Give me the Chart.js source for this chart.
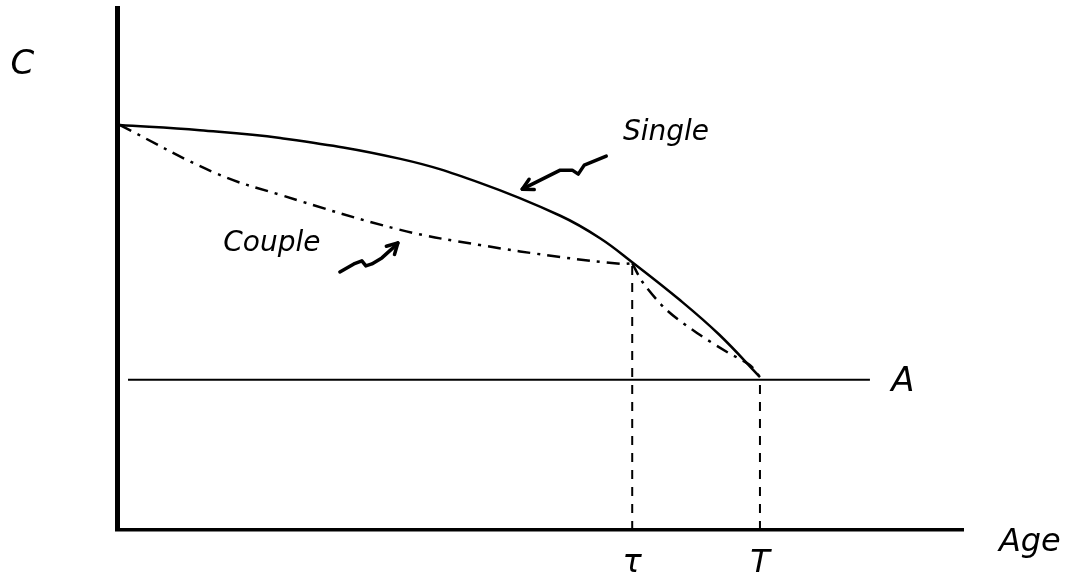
<!DOCTYPE html>
<html>
<head>
<meta charset="utf-8">
<script src="https://cdn.jsdelivr.net/npm/chart.js@4.4.1/dist/chart.umd.min.js"></script>
<style>
  html, body { margin: 0; padding: 0; background: #fff; }
  #wrap { width: 1078px; height: 586px; }
</style>
</head>
<body>
<div id="wrap"><canvas id="chart"></canvas></div>
<script>
// consumption paths by age (hand-drawn diagram, arbitrary units)
const singleAge = [0.3, 9.8, 19.3, 33.5, 42.9, 52.4, 57.1, 60.9, 66.5, 71.2, 76];
const singleC   = [77.6, 76.6, 75.1, 71.1, 66.5, 60.2, 55.9, 51.3, 44.1, 37.4, 29.3];
const coupleAge = [0.3, 11.6, 19.3, 33.5, 42.9, 52.4, 59.5, 60.9, 62.2, 65, 68.6, 72.1, 74.8, 76];
const coupleC   = [77.6, 68.4, 64.2, 57.5, 54.6, 52.3, 51.0, 51.1, 47.3, 42.1, 37.7, 34.1, 31.6, 29.3];
const tau = 60.9, bigT = 76;
const assetLevel = 28.8;
const assetSpan = [1.3, 89];
const tickAges = [tau, bigT];
const tickNames = ['\u03C4', 'T'];

const toXY = (xs, ys) => xs.map((x, i) => ({ x: x, y: ys[i] }));
const kink = coupleAge.indexOf(tau);

// text annotations in data units
const notes = [
  { text: 'C', x: -11.2, y: 89.1, size: 34 },
  { text: 'Single', x: 64.9, y: 76.1, size: 28 },
  { text: 'Couple', x: 18.3, y: 54.8, size: 28 },
  { text: 'A', x: 92.9, y: 28.4, size: 34 },
  { text: 'Age', x: 107.9, y: -2.5, size: 32 }
];
// squiggly arrows: tip in data units, path offsets in px from tip
const arrows = [
  { x: 47.9, y: 65.3, path: [[84,-33],[62,-24],[56,-15],[50,-19],[38,-19],[22,-11],[0,0]] },
  { x: 33.2, y: 55.0, path: [[-58,29],[-44,21],[-36,18],[-32,23],[-26,21],[-16,15],[-6,6],[0,0]] }
];

const ink = '#000';

const annotate = {
  id: 'annotate',
  afterDraw(chart) {
    const { ctx, scales } = chart;
    const xs = scales.x, ys = scales.y;
    ctx.save();
    ctx.fillStyle = ink;
    ctx.strokeStyle = ink;
    ctx.textAlign = 'center';
    ctx.textBaseline = 'middle';
    notes.forEach(n => {
      ctx.font = 'italic ' + n.size + 'px "DejaVu Sans"';
      ctx.fillText(n.text, xs.getPixelForValue(n.x), ys.getPixelForValue(n.y));
    });
    ctx.lineWidth = 3.5;
    ctx.lineCap = 'round';
    ctx.lineJoin = 'round';
    arrows.forEach(a => {
      const tx = xs.getPixelForValue(a.x), ty = ys.getPixelForValue(a.y);
      ctx.beginPath();
      a.path.forEach((p, i) => {
        if (i === 0) ctx.moveTo(tx + p[0], ty + p[1]);
        else ctx.lineTo(tx + p[0], ty + p[1]);
      });
      ctx.stroke();
      // arrow head
      const prev = a.path[a.path.length - 2];
      const ang = Math.atan2(-prev[1], -prev[0]);
      ctx.beginPath();
      ctx.moveTo(tx - 12 * Math.cos(ang - 0.5), ty - 12 * Math.sin(ang - 0.5));
      ctx.lineTo(tx, ty);
      ctx.lineTo(tx - 12 * Math.cos(ang + 0.5), ty - 12 * Math.sin(ang + 0.5));
      ctx.stroke();
    });
    ctx.restore();
  }
};

const dashDot = [13, 7, 3, 7];

new Chart(document.getElementById('chart').getContext('2d'), {
  type: 'line',
  data: {
    datasets: [
      {
        label: 'Single',
        data: toXY(singleAge, singleC),
        borderColor: ink, borderWidth: 2.5,
        tension: 0.4,
        pointRadius: 0
      },
      {
        label: 'Couple',
        data: toXY(coupleAge.slice(0, kink + 1), coupleC.slice(0, kink + 1)),
        borderColor: ink, borderWidth: 2.5,
        borderDash: dashDot,
        tension: 0.4,
        pointRadius: 0
      },
      {
        label: 'Couple (after tau)',
        data: toXY(coupleAge.slice(kink), coupleC.slice(kink)),
        borderColor: ink, borderWidth: 2.5,
        borderDash: dashDot,
        tension: 0.3,
        pointRadius: 0
      },
      {
        label: 'A',
        data: toXY(assetSpan, [assetLevel, assetLevel]),
        borderColor: ink, borderWidth: 2,
        pointRadius: 0
      },
      {
        label: 'tau',
        data: toXY([tau, tau], [0, 51.1]),
        borderColor: ink, borderWidth: 2,
        borderDash: [9, 8],
        pointRadius: 0
      },
      {
        label: 'T',
        data: toXY([bigT, bigT], [0, 29.3]),
        borderColor: ink, borderWidth: 2,
        borderDash: [9, 8],
        pointRadius: 0
      }
    ]
  },
  options: {
    responsive: true,
    maintainAspectRatio: false,
    animation: false,
    layout: { padding: { left: 117, right: 115, top: 8, bottom: 0 } },
    plugins: { legend: { display: false }, tooltip: { enabled: false } },
    scales: {
      x: {
        type: 'linear', min: 0, max: 100,
        afterBuildTicks: axis => { axis.ticks = tickAges.map(v => ({ value: v })); },
        afterFit: axis => { axis.height = 56; },
        ticks: {
          color: ink,
          padding: 18,
          maxRotation: 0,
          autoSkip: false,
          font: { family: 'DejaVu Sans', style: 'italic', size: 32, lineHeight: 1 },
          callback: (v) => tickNames[tickAges.indexOf(v)] || ''
        },
        grid: { display: false, drawTicks: false },
        border: { display: true, color: ink, width: 3.5 }
      },
      y: {
        type: 'linear', min: 0, max: 100,
        ticks: { display: false },
        grid: { display: false, drawTicks: false },
        border: { display: true, color: ink, width: 5 }
      }
    }
  },
  plugins: [annotate]
});
</script>
</body>
</html>
